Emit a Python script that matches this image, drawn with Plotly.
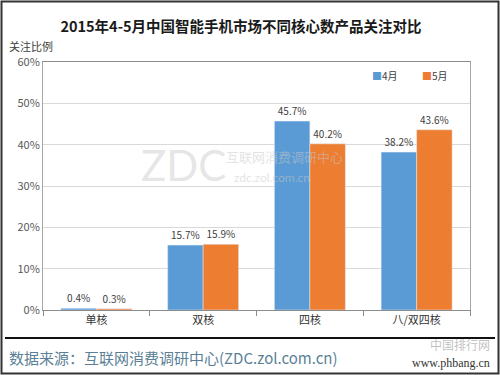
import plotly.graph_objects as go

categories = ["单核", "双核", "四核", "八/双四核"]
april = [0.4, 15.7, 45.7, 38.2]
may = [0.3, 15.9, 40.2, 43.6]
series_names = ["4月", "5月"]
colors = ["#5B9BD5", "#ED7D31"]
y_ticks = [0, 10, 20, 30, 40, 50, 60]

FONT = "Noto Sans CJK SC"
L, R, T, B = 43, 30, 62, 65
W, H = 500, 375
PW, PH = W - L - R, H - T - B

def px(x):
    return (x - L) / PW

def py(y):
    return (H - B - y) / PH

fig = go.Figure()
for name, vals, col in zip(series_names, [april, may], colors):
    fig.add_trace(go.Bar(
        x=categories, y=vals, name=name, marker_color=col,
        text=[f"{v}%" for v in vals], textposition="outside",
        textfont=dict(size=10, color="#404040", family=FONT), cliponaxis=False))

fig.update_layout(
    width=W, height=H,
    margin=dict(l=L, r=R, t=T, b=B, autoexpand=False),
    paper_bgcolor="white", plot_bgcolor="white",
    barmode="group", bargap=0.335, bargroupgap=0,
    font=dict(family=FONT, color="#404040"),
    title=dict(text="<b>2015年4-5月中国智能手机市场不同核心数产品关注对比</b>",
               x=px(241), xanchor="center", xref="paper", y=1 - 27 / H, yanchor="middle",
               font=dict(size=14.5, color="#1a1a1a", family=FONT)),
    showlegend=False,
    xaxis=dict(type="category", showline=True, linecolor="#8c8c8c", linewidth=1,
               mirror=True, ticks="outside", tickson="boundaries", ticklen=5,
               tickcolor="#8c8c8c", tickfont=dict(size=11, color="#333333", family=FONT),
               showgrid=False),
    yaxis=dict(range=[0, 60], tickvals=y_ticks, ticktext=[f"{v}%" for v in y_ticks],
               showline=True, linecolor="#a6a6a6", mirror=True, linewidth=1,
               gridcolor="#d9d9d9", gridwidth=1, zeroline=False,
               tickfont=dict(size=11, color="#595959", family=FONT), ticks="", ticklen=4),
)

def ann(text, x, y, size, color, family=FONT, xanchor="center"):
    return dict(text=text, x=px(x), y=py(y), xref="paper", yref="paper",
                xanchor=xanchor, yanchor="middle", showarrow=False,
                font=dict(size=size, color=color, family=family))

annotations = [
    ann("关注比例", 31, 46, 11, "#404040"),
    ann("ZDC", 183, 165, 42, "rgba(200,200,200,0.45)", "DejaVu Sans ExtraLight, Lato"),
    ann("互联网消费调研中心", 284, 156, 13, "rgba(200,200,200,0.5)"),
    ann("zdc.zol.com.cn", 272, 177, 12, "rgba(200,200,200,0.5)", "Lato"),
    ann("数据来源：互联网消费调研中心(ZDC.zol.com.cn)", 7, 357, 15, "#5a7f96", xanchor="left"),
    ann("中国排行网", 492, 344, 12, "rgba(150,150,150,0.6)", xanchor="right"),
    ann("www.phbang.cn", 492, 363, 12, "#333333", "Liberation Serif", xanchor="right"),
]
# legend drawn as text keys
for name, col, xpos in zip(series_names, colors, [370, 420]):
    annotations.append(ann(f"<span style='color:{col}'>■</span>{name}", xpos, 76, 10,
                           "#404040", xanchor="left"))
fig.update_layout(annotations=annotations)

fig.add_shape(type="line", xref="paper", yref="paper", x0=px(5), x1=px(495),
              y0=py(338), y1=py(338), line=dict(color="#111111", width=2))
fig.add_shape(type="rect", xref="paper", yref="paper", x0=px(1.5), x1=px(498.5),
              y0=py(1.5), y1=py(373.5), line=dict(color="#333333", width=2))

fig.write_html("out.html", config={"displayModeBar": False},
               post_script="document.body.style.margin='0';document.body.style.padding='0';")
